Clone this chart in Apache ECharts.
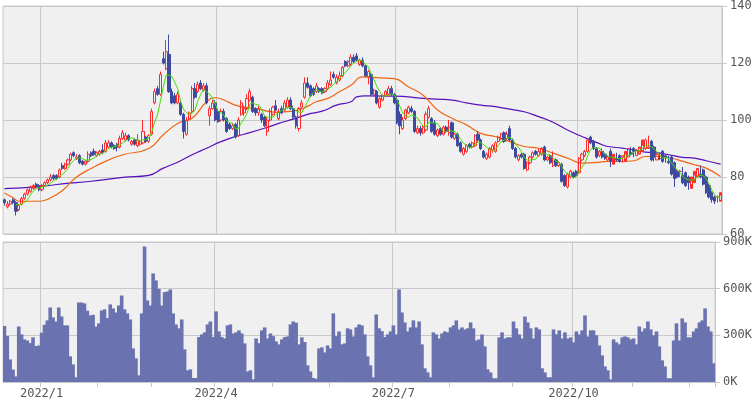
<!DOCTYPE html>
<html><head><meta charset="utf-8">
<script src="https://cdn.jsdelivr.net/npm/echarts@6/dist/echarts.min.js"></script>
<style>html,body{margin:0;padding:0;background:#fff}#c{width:755px;height:400px}</style>
</head><body><div id="c"></div>
<script>
const opens=[72,69.5,70.5,72,71,68.5,70.5,72.5,74,75,76,77.5,77,75.5,77,78,79,80.5,80.5,80,84,83,84.5,86,88.5,86.5,87.5,85.5,84.5,85.5,88.5,89,87.5,88,89.5,89,90.5,92,91,91.5,90.5,93.5,93,94.5,91.5,93,91,91.5,92,94,92.5,95,106,111,109,121.5,118,123,110,108.5,106,106,102,95,100.5,103,111,110,113,110.5,112,101.5,104,106,103,100,103,100.5,98.5,97,98.5,94.5,102,102.5,104,107,108,104,102.5,102,101,96,100,102,105,100.5,104,103.5,104.5,107,104,101,97,104.5,108,113,112,111,110,111,111,110,111,112.5,116,113,114,115.5,120.5,119,119.5,122,122.5,119.5,121,119,115,116,109,110,104.5,107,108.5,109,111,109,107,102,97,100.5,102.5,104,103,95.5,97,95.5,96.5,101,100.5,99,94.5,97,95,97.5,95.5,99,93.5,95,92,88,89,91.5,90.5,91,95,93,89,86.5,87,89.5,89,92.5,93.5,95.5,93.5,97,93,90,86,88,88,82.5,85,87,89,87.5,88,90.5,86,87.5,84,86,84,84.5,80.5,76.5,80,81.5,82,81.5,86,87.5,89,94,92.5,90,87.5,89,88,86,89,84.5,86.5,87.5,87,85.5,87,88.5,90,87.5,88,89,90,90,92.5,90.5,86,86.5,89,87.5,85.5,87,85,82,82,80.5,81.5,80,76,78,80,81,82.5,80,77,74.5,73,73,71.5,72.5];
const closes=[71,70.5,71.5,71,68,70,72.5,74,75.5,76.5,77,76.5,75.5,77,78,79,80,79.5,79.5,82.5,83,84.5,86,88,87.5,87,85,84.5,85.5,88,87.5,88,88.5,89,88.5,92,92,90.5,90,90.5,93.5,95.5,94.5,93,92.5,91.5,93,92.5,96,92.5,94.5,103,110,109,116,120,124,110,106,106,109,102,96,100,102.5,111,108,112.5,111,112,106,104,106,100,99.5,103,100,96,97,98,94,100,106,104,107.5,110,103,102.5,104,100,98,100,103,104.5,103.5,103,102.5,106,107,104,101,98,104,106,113,111.5,108.5,109,112,110,109.5,111,113,114,115,115,115.5,118.5,119,120.5,122,120.5,121,121,119,115.5,117,109,110.5,106,107.5,108.5,110,111,109,106,99,98,100,103.5,104.5,103,96,97,95.5,97.5,102,104,96,95,96.5,95,97.5,96,97.5,94,95,91,89,90,91,90.5,92,94.5,93,90,87,88,90,91,92,94,95,92.5,95,93,90,87,87.5,87,83,85,87,88.5,88,89,90,86,87,85,85.5,84,85,78.5,77,81,82,80,80.5,86.5,88,89,93,92,90,87,89,87,86.5,87,85.5,88,86,85.5,87.5,89,90,88,89,89.5,90.5,93,93,90.5,86,87,88,86.5,85.5,87,85,81,79.5,80,82,78,77,78,80,82,83,80,77.5,74.5,73,72,71.5,73,74.5];
const highs=[72.5,71.5,72,72.5,71.5,70.5,73,74.5,76,77,77.5,78,77.5,77.5,78.5,79.5,81,81,81,83,85,85,86.5,88.5,89,88,88,86,86,89,89,90,89,89.5,91.5,93,93,92.5,91.5,92,94.5,96.5,95.5,95,93,93.5,95,93,100,94.5,95,104,111,112,117,124,128,130,111,109.5,110,107,102.5,101,103,112,113,113.5,114,113,113,105,107,107,104,104,104,101,99,99,99,101,107,105,109,111,108.5,104.5,105,102.5,101.5,101,104,105,107,104,105,107,108,108,105,101.5,104.5,107,115,115,112.5,111.5,113,111.5,111.5,111.5,114,117,117,116,117,119,121,121,123,123,123.5,121.5,122,119.5,117.5,116.5,111,110.5,108,109,110.5,112,112,109.5,108,103,101,104,105,105,103.5,98,98,98,103,105,101,100,97,97.5,98,98,100,99.5,95.5,95.5,92.5,90.5,91.5,92,92.5,95,96,93.5,89.5,88.5,90.5,91.5,92.5,94.5,95.5,96,96,98,93.5,90.5,88,88.5,88.5,85.5,87.5,89,89.5,90,90.5,91,87.5,88,89,86.5,85.5,85,81,81.5,82.5,82,82.5,87,88.5,89.5,93.5,94.5,93,90.5,89.5,90,88.5,87.5,90,86,88.5,88,87.5,88,89.5,90.5,90.5,89.5,90,91,93.5,94.5,93,91,87.5,88.5,89.5,88,87.5,87.5,85.5,82.5,82.5,83.5,82,80.5,78.5,80.5,82.5,84,83,80.5,77.5,75,73.5,73.5,73.5,75.5];
const lows=[70,69,70,70.5,66.5,68,70,72,73.5,74.5,75.5,76,75,75,76.5,77.5,78.5,79,79,79.5,82.5,82.5,84,85.5,87,86,84.5,84,84,85,87,87.5,87,87.5,88,88.5,90,90,89.5,89,90,93,92.5,92.5,91,91,90.5,91,91.5,92,92,94.5,105.5,108.5,108.5,119.5,117.5,109.5,105.5,105.5,105.5,101.5,93.5,94.5,100,102.5,107.5,109.5,110.5,110,105.5,98,103.5,99.5,99,99.5,99.5,95.5,96.5,96.5,93.5,94,101.5,101.5,103.5,106.5,102.5,101.5,101.5,99,97.5,94.5,99.5,101.5,103,100,102,103,104,103.5,100.5,97,96,104,107.5,111,108,108.5,109.5,109.5,109,109.5,110.5,112,114.5,112.5,113.5,115,118.5,118.5,119,120,120.5,119,118.5,115,112.5,108.5,108.5,105.5,104,106.5,108,108.5,108.5,105.5,98.5,95,96.5,100,102,102.5,95.5,95,94.5,95,96,100.5,95.5,94.5,94,94.5,94.5,95.5,94.5,93.5,93,90.5,88.5,87.5,88.5,90,90,90.5,92.5,89.5,86.5,86,86.5,88.5,88.5,92,93,92,93,92.5,89.5,86.5,85.5,86.5,82.5,82,84.5,86.5,87.5,87,87.5,85.5,85.5,84.5,83.5,83.5,83.5,78,76.5,76,79.5,79.5,80,81,85.5,87,88.5,91.5,89.5,86.5,87,86.5,86,85.5,83.5,86,85.5,85,85,86.5,88,87.5,87,87.5,88.5,89.5,89.5,90,85.5,85.5,86,86,85,85,84.5,80.5,76.5,79.5,80,77.5,76.5,75.5,77.5,79.5,80.5,79.5,77,74,72.5,71,70.5,71,72];
const volumes=[360,295,145,80,36,357,306,274,267,250,287,231,235,317,368,396,479,415,389,479,421,364,364,165,113,30,511,511,505,458,428,432,357,377,460,467,411,499,473,447,492,556,467,441,402,216,152,43,441,871,524,492,698,653,599,492,578,582,595,441,370,345,402,210,75,81,26,26,289,306,319,370,389,289,454,325,289,280,364,370,312,319,332,312,248,68,75,17,280,250,332,351,280,312,295,261,242,274,289,293,370,389,381,242,287,257,107,68,26,21,216,223,190,235,216,441,295,325,242,248,345,338,293,351,370,364,306,165,107,30,434,345,327,289,306,325,364,306,595,447,383,325,351,396,351,389,242,88,62,30,319,306,280,312,325,319,351,364,396,338,351,338,345,383,345,267,274,306,229,81,62,24,24,287,319,280,287,287,389,345,306,280,421,383,345,280,351,338,88,62,30,30,338,306,332,280,319,280,287,255,325,306,332,428,293,332,332,300,235,171,100,75,17,274,255,242,287,293,287,274,280,242,357,325,345,389,338,300,325,229,139,100,24,24,267,377,267,409,383,287,287,325,345,383,396,473,357,325,120];
const ma25=[[0,74.4],[3,72.7],[5,71.5],[12,71.5],[16,72.7],[20,75.2],[25,80],[30,83],[35,85.5],[41,87.8],[50,90],[55,94.8],[60,98.8],[65,100.6],[70,106.4],[73,107.8],[76,107],[80,105.2],[83,104.5],[88,103.8],[94,102.7],[100,103.1],[104,104.3],[108,106.4],[112,107.6],[116,109.9],[120,112.2],[124,115.1],[130,114.8],[135,114.5],[140,111.6],[145,108.7],[150,103.5],[155,100.6],[160,98.3],[165,95.3],[170,94.2],[175,92.4],[180,90.7],[185,90.1],[190,88.4],[195,86.6],[200,84.9],[205,85.1],[209,85.5],[214,85.5],[218,85.7],[222,87.2],[227,87.2],[231,86.6],[235,85.5],[239,84.3],[243,83.1],[248,80.2]];
const ma75=[[0,75.9],[12,76.6],[20,77.6],[30,78.5],[41,79.9],[50,80.6],[55,83.1],[60,85.2],[65,87.8],[70,90.1],[75,92.4],[80,94.2],[83,95],[90,97.1],[95,98.8],[100,100.3],[105,102],[110,103.1],[115,105.2],[120,106.4],[122,108.1],[125,108.5],[135,108.4],[145,107.6],[150,107.3],[155,107],[160,106],[165,105.2],[170,104.7],[175,103.8],[180,102.9],[185,101.2],[190,99.2],[195,96.5],[200,94.2],[203,93],[207,91.3],[209,90.7],[214,90.1],[218,89.5],[222,88.7],[227,88.4],[231,87.6],[235,86.9],[239,86.6],[243,85.7],[248,84.5]];
const tickIdx=[13,74,136,199];
const tickLabels=['2022/1','2022/4','2022/7','2022/10'];
const minorIdx=[33,52,94,114,156,178,220,240];

const cats=closes.map((_,i)=>String(i));
const kdata=closes.map((c,i)=>[opens[i],c,lows[i],highs[i]]);
const ma5=closes.map((c,i)=>{if(i<4)return null;let s=0;for(let k=i-4;k<=i;k++)s+=closes[k];return +(s/5).toFixed(2);});
const allTicks=tickIdx.concat(minorIdx);
const lab={fontFamily:'DejaVu Sans Mono',fontSize:12,color:'#555'};
const chart=echarts.init(document.getElementById('c'));
chart.setOption({
 animation:false,
 grid:[{left:3,right:33,top:3,height:231,show:true,backgroundColor:'#f0f0f0',borderColor:'#c8c8c8',borderWidth:1},
       {left:3,right:33,top:242,height:140,show:true,backgroundColor:'#f0f0f0',borderColor:'#c8c8c8',borderWidth:1}],
 xAxis:[{type:'category',data:cats,gridIndex:0,boundaryGap:true,axisLine:{show:false},axisTick:{show:false},axisLabel:{show:false},
   splitLine:{show:true,interval:(i)=>tickIdx.includes(i),lineStyle:{color:'#c8c8c8'}}},
  {type:'category',data:cats,gridIndex:1,boundaryGap:true,axisLine:{lineStyle:{color:'#c8c8c8'}},
   axisTick:{show:true,interval:(i)=>allTicks.includes(i),length:5,lineStyle:{color:'#c8c8c8'}},
   axisLabel:{...lab,interval:(i)=>tickIdx.includes(i),formatter:(v)=>tickLabels[tickIdx.indexOf(+v)]||'',margin:6},
   splitLine:{show:true,interval:(i)=>tickIdx.includes(i),lineStyle:{color:'#c8c8c8'}}}],
 yAxis:[{type:'value',gridIndex:0,position:'right',min:60,max:140,interval:20,axisLine:{show:true,lineStyle:{color:'#c8c8c8'}},
   axisTick:{show:true,length:5,lineStyle:{color:'#c8c8c8'}},axisLabel:{...lab,margin:8},splitLine:{lineStyle:{color:'#c8c8c8'}}},
  {type:'value',gridIndex:1,position:'right',min:0,max:900,interval:300,axisLine:{show:true,lineStyle:{color:'#c8c8c8'}},
   axisTick:{show:true,length:5,lineStyle:{color:'#c8c8c8'}},axisLabel:{...lab,margin:8,formatter:(v)=>v+'K'},splitLine:{lineStyle:{color:'#c8c8c8'}}}],
 series:[
  {type:'line',data:ma75,xAxisIndex:0,yAxisIndex:0,showSymbol:false,smooth:true,lineStyle:{color:'#5511bb',width:1.2},z:1},
  {type:'line',data:ma25,xAxisIndex:0,yAxisIndex:0,showSymbol:false,smooth:true,lineStyle:{color:'#ee6611',width:1.2},z:1},
  {type:'candlestick',data:kdata,xAxisIndex:0,yAxisIndex:0,barWidth:2.6,
   itemStyle:{color:'rgba(0,0,0,0)',borderColor:'#ff2a2a',color0:'#3d4aa0',borderColor0:'#3d4aa0',borderWidth:1},z:2},
  {type:'line',data:ma5,xAxisIndex:0,yAxisIndex:0,showSymbol:false,lineStyle:{color:'#44dd00',width:1},z:3},
  {type:'bar',data:volumes,xAxisIndex:1,yAxisIndex:1,barWidth:3.6,itemStyle:{color:'#6a73b0'}}
 ]
});
</script></body></html>
